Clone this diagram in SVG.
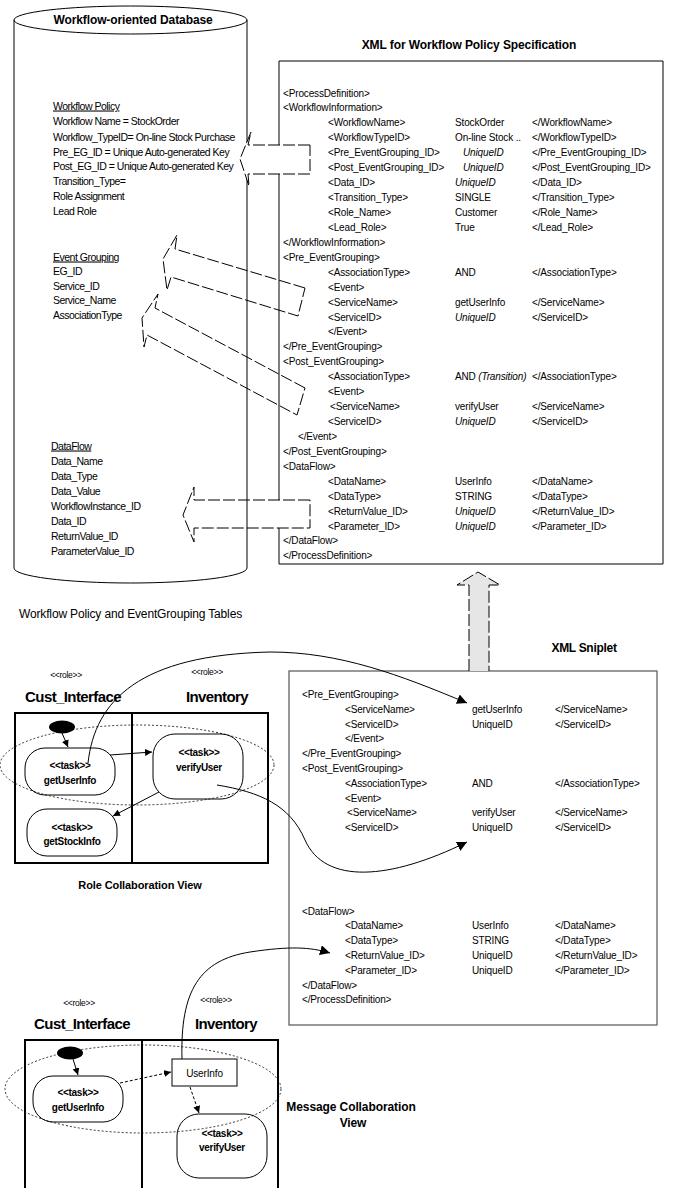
<svg xmlns="http://www.w3.org/2000/svg" width="673" height="1188" viewBox="0 0 673 1188">
<defs>
<style>
text{font-family:"Liberation Sans",Arial,sans-serif;fill:#000}
.x{font-size:10px;letter-spacing:-0.15px}
.c{font-size:10.5px;letter-spacing:-0.5px}
.i{font-style:italic}
.u{text-decoration:underline}
.h{font-size:12px;font-weight:bold;letter-spacing:-0.1px}
.big{font-size:15px;font-weight:bold;letter-spacing:-0.6px}
.role{font-size:8.5px;letter-spacing:-0.3px}
.task{font-size:10px;font-weight:bold;letter-spacing:-0.3px}
.ln{fill:none;stroke:#000;stroke-width:1}
.blk{fill:none;stroke:#000;stroke-width:1;stroke-dasharray:12 3}
.dot{fill:none;stroke:#000;stroke-width:0.8;stroke-dasharray:2 2}
.tk{fill:#fff;stroke:#000;stroke-width:1}
</style>
<marker id="ah" viewBox="0 0 10 10" refX="10" refY="5" markerWidth="7" markerHeight="7" orient="auto" markerUnits="userSpaceOnUse"><path d="M0,0 L10,5 L0,10 z" fill="#000"/></marker>
<marker id="ahb" viewBox="0 0 10 10" refX="10" refY="5" markerWidth="10" markerHeight="10" orient="auto" markerUnits="userSpaceOnUse"><path d="M0,0 L10,5 L0,10 z" fill="#000"/></marker>
</defs>
<rect width="673" height="1188" fill="#fff"/>

<g id="database">
<path class="ln" d="M14,20 L14,568 A116.5,15 0 0 0 247,568 L247,20"/>
<ellipse class="ln" cx="130.5" cy="20" rx="116.5" ry="14" fill="#fff"/>
<text class="h" x="133" y="24" text-anchor="middle">Workflow-oriented Database</text>
<text class="c u" x="53" y="109.5">Workflow Policy</text>
<text class="c" x="53" y="125">Workflow Name = StockOrder</text>
<text class="c" x="53" y="140.5">Workflow_TypeID= On-line Stock Purchase</text>
<text class="c" x="53" y="155.5">Pre_EG_ID = Unique Auto-generated Key</text>
<text class="c" x="53" y="170">Post_EG_ID = Unique Auto-generated Key</text>
<text class="c" x="53" y="185">Transition_Type=</text>
<text class="c" x="53" y="200">Role Assignment</text>
<text class="c" x="53" y="214.5">Lead Role</text>
<text class="c u" x="53" y="260.5">Event Grouping</text>
<text class="c" x="53" y="275">EG_ID</text>
<text class="c" x="53" y="289.5">Service_ID</text>
<text class="c" x="53" y="304">Service_Name</text>
<text class="c" x="53" y="319">AssociationType</text>
<text class="c u" x="51" y="449.5">DataFlow</text>
<text class="c" x="51" y="464.5">Data_Name</text>
<text class="c" x="51" y="479.5">Data_Type</text>
<text class="c" x="51" y="494.5">Data_Value</text>
<text class="c" x="51" y="509.5">WorkflowInstance_ID</text>
<text class="c" x="51" y="524.5">Data_ID</text>
<text class="c" x="51" y="539.5">ReturnValue_ID</text>
<text class="c" x="51" y="554.5">ParameterValue_ID</text>
<text x="19" y="618" style="font-size:12px;letter-spacing:-0.15px">Workflow Policy and EventGrouping Tables</text>
</g>

<g id="xml-spec">
<text class="h" x="469" y="49" text-anchor="middle">XML for Workflow Policy Specification</text>
<path class="ln" d="M279,145 V61 H663 V564 H279 V528 M279,500 V174"/>
<text class="x" x="283" y="96.5">&lt;ProcessDefinition&gt;</text>
<text class="x" x="283" y="111.4">&lt;WorkflowInformation&gt;</text>
<text class="x" x="328" y="126.4">&lt;WorkflowName&gt;</text><text class="x" x="455" y="126.4">StockOrder</text><text class="x" x="532" y="126.4">&lt;/WorkflowName&gt;</text>
<text class="x" x="328" y="141.3">&lt;WorkflowTypeID&gt;</text><text class="x" x="455" y="141.3">On-line Stock ..</text><text class="x" x="532" y="141.3">&lt;/WorkflowTypeID&gt;</text>
<text class="x" x="328" y="156.2">&lt;Pre_EventGrouping_ID&gt;</text><text class="x i" x="463" y="156.2">UniqueID</text><text class="x" x="532" y="156.2">&lt;/Pre_EventGrouping_ID&gt;</text>
<text class="x" x="328" y="171.2">&lt;Post_EventGrouping_ID&gt;</text><text class="x i" x="463" y="171.2">UniqueID</text><text class="x" x="532" y="171.2">&lt;/Post_EventGrouping_ID&gt;</text>
<text class="x" x="328" y="186.1">&lt;Data_ID&gt;</text><text class="x i" x="455" y="186.1">UniqueID</text><text class="x" x="532" y="186.1">&lt;/Data_ID&gt;</text>
<text class="x" x="328" y="201">&lt;Transition_Type&gt;</text><text class="x" x="455" y="201">SINGLE</text><text class="x" x="532" y="201">&lt;/Transition_Type&gt;</text>
<text class="x" x="328" y="215.9">&lt;Role_Name&gt;</text><text class="x" x="455" y="215.9">Customer</text><text class="x" x="532" y="215.9">&lt;/Role_Name&gt;</text>
<text class="x" x="328" y="230.9">&lt;Lead_Role&gt;</text><text class="x" x="455" y="230.9">True</text><text class="x" x="532" y="230.9">&lt;/Lead_Role&gt;</text>
<text class="x" x="283" y="245.8">&lt;/WorkflowInformation&gt;</text>
<text class="x" x="283" y="260.7">&lt;Pre_EventGrouping&gt;</text>
<text class="x" x="328" y="275.7">&lt;AssociationType&gt;</text><text class="x" x="455" y="275.7">AND</text><text class="x" x="532" y="275.7">&lt;/AssociationType&gt;</text>
<text class="x" x="328" y="290.6">&lt;Event&gt;</text>
<text class="x" x="328" y="305.5">&lt;ServiceName&gt;</text><text class="x" x="455" y="305.5">getUserInfo</text><text class="x" x="532" y="305.5">&lt;/ServiceName&gt;</text>
<text class="x" x="328" y="320.5">&lt;ServiceID&gt;</text><text class="x i" x="455" y="320.5">UniqueID</text><text class="x" x="532" y="320.5">&lt;/ServiceID&gt;</text>
<text class="x" x="328" y="335.4">&lt;/Event&gt;</text>
<text class="x" x="283" y="350.3">&lt;/Pre_EventGrouping&gt;</text>
<text class="x" x="283" y="365.2">&lt;Post_EventGrouping&gt;</text>
<text class="x" x="328" y="380.2">&lt;AssociationType&gt;</text><text class="x" x="455" y="380.2">AND <tspan class="i">(Transition)</tspan></text><text class="x" x="532" y="380.2">&lt;/AssociationType&gt;</text>
<text class="x" x="328" y="395.1">&lt;Event&gt;</text>
<text class="x" x="330" y="410">&lt;ServiceName&gt;</text><text class="x" x="455" y="410">verifyUser</text><text class="x" x="532" y="410">&lt;/ServiceName&gt;</text>
<text class="x" x="328" y="425">&lt;ServiceID&gt;</text><text class="x i" x="455" y="425">UniqueID</text><text class="x" x="532" y="425">&lt;/ServiceID&gt;</text>
<text class="x" x="298" y="439.9">&lt;/Event&gt;</text>
<text class="x" x="283" y="454.8">&lt;/Post_EventGrouping&gt;</text>
<text class="x" x="283" y="469.8">&lt;DataFlow&gt;</text>
<text class="x" x="328" y="484.7">&lt;DataName&gt;</text><text class="x" x="455" y="484.7">UserInfo</text><text class="x" x="532" y="484.7">&lt;/DataName&gt;</text>
<text class="x" x="328" y="499.6">&lt;DataType&gt;</text><text class="x" x="455" y="499.6">STRING</text><text class="x" x="532" y="499.6">&lt;/DataType&gt;</text>
<text class="x" x="328" y="514.5">&lt;ReturnValue_ID&gt;</text><text class="x i" x="455" y="514.5">UniqueID</text><text class="x" x="532" y="514.5">&lt;/ReturnValue_ID&gt;</text>
<text class="x" x="328" y="529.5">&lt;Parameter_ID&gt;</text><text class="x i" x="455" y="529.5">UniqueID</text><text class="x" x="532" y="529.5">&lt;/Parameter_ID&gt;</text>
<text class="x" x="283" y="544.4">&lt;/DataFlow&gt;</text>
<text class="x" x="283" y="559.3">&lt;/ProcessDefinition&gt;</text>
</g>

<g id="xml-sniplet">
<text class="h" x="584" y="652" text-anchor="middle" style="letter-spacing:-0.3px">XML Sniplet</text>
<rect x="289" y="671" width="368" height="354" fill="none" stroke="#555" stroke-width="1.2"/>
<text class="x" x="302" y="698">&lt;Pre_EventGrouping&gt;</text>
<text class="x" x="345" y="712.8">&lt;ServiceName&gt;</text><text class="x" x="472" y="712.8">getUserInfo</text><text class="x" x="555" y="712.8">&lt;/ServiceName&gt;</text>
<text class="x" x="345" y="727.6">&lt;ServiceID&gt;</text><text class="x" x="472" y="727.6">UniqueID</text><text class="x" x="555" y="727.6">&lt;/ServiceID&gt;</text>
<text class="x" x="345" y="742.4">&lt;/Event&gt;</text>
<text class="x" x="302" y="757.2">&lt;/Pre_EventGrouping&gt;</text>
<text class="x" x="302" y="772">&lt;Post_EventGrouping&gt;</text>
<text class="x" x="345" y="786.8">&lt;AssociationType&gt;</text><text class="x" x="472" y="786.8">AND</text><text class="x" x="555" y="786.8">&lt;/AssociationType&gt;</text>
<text class="x" x="345" y="801.6">&lt;Event&gt;</text>
<text class="x" x="347" y="816.4">&lt;ServiceName&gt;</text><text class="x" x="472" y="816.4">verifyUser</text><text class="x" x="555" y="816.4">&lt;/ServiceName&gt;</text>
<text class="x" x="345" y="831.2">&lt;ServiceID&gt;</text><text class="x" x="472" y="831.2">UniqueID</text><text class="x" x="555" y="831.2">&lt;/ServiceID&gt;</text>
<text class="x" x="302" y="914.5">&lt;DataFlow&gt;</text>
<text class="x" x="345" y="929.3">&lt;DataName&gt;</text><text class="x" x="472" y="929.3">UserInfo</text><text class="x" x="555" y="929.3">&lt;/DataName&gt;</text>
<text class="x" x="345" y="944.1">&lt;DataType&gt;</text><text class="x" x="472" y="944.1">STRING</text><text class="x" x="555" y="944.1">&lt;/DataType&gt;</text>
<text class="x" x="345" y="958.9">&lt;ReturnValue_ID&gt;</text><text class="x" x="472" y="958.9">UniqueID</text><text class="x" x="555" y="958.9">&lt;/ReturnValue_ID&gt;</text>
<text class="x" x="345" y="973.7">&lt;Parameter_ID&gt;</text><text class="x" x="472" y="973.7">UniqueID</text><text class="x" x="555" y="973.7">&lt;/Parameter_ID&gt;</text>
<text class="x" x="302" y="988.5">&lt;/DataFlow&gt;</text>
<text class="x" x="302" y="1003.3">&lt;/ProcessDefinition&gt;</text>
</g>

<g id="role-collaboration">
<text class="role" x="66" y="678" text-anchor="middle">&lt;&lt;role&gt;&gt;</text>
<text class="role" x="207" y="675" text-anchor="middle">&lt;&lt;role&gt;&gt;</text>
<text class="big" x="73" y="702" text-anchor="middle">Cust_Interface</text>
<text class="big" x="217" y="702" text-anchor="middle">Inventory</text>
<rect x="15" y="713" width="253" height="150" fill="none" stroke="#000" stroke-width="2"/>
<line x1="132" y1="713" x2="132" y2="863" stroke="#000" stroke-width="2"/>
<ellipse cx="62" cy="727" rx="13" ry="6.5" fill="#000"/>
<g id="rc-getUserInfo"><rect class="tk" x="25" y="748" width="90" height="47" rx="20"/>
<text class="task" x="70" y="768.5" text-anchor="middle">&lt;&lt;task&gt;&gt;</text>
<text class="task" x="70" y="783.5" text-anchor="middle">getUserInfo</text></g>
<g id="rc-verifyUser"><rect class="tk" x="153" y="734" width="90" height="65" rx="22"/>
<text class="task" x="199" y="755.5" text-anchor="middle">&lt;&lt;task&gt;&gt;</text>
<text class="task" x="199" y="770.5" text-anchor="middle">verifyUser</text></g>
<g id="rc-getStockInfo"><rect class="tk" x="27" y="809" width="90" height="47" rx="20"/>
<text class="task" x="72" y="830.5" text-anchor="middle">&lt;&lt;task&gt;&gt;</text>
<text class="task" x="72" y="844.5" text-anchor="middle">getStockInfo</text></g>
<ellipse class="dot" cx="137" cy="765" rx="137" ry="40"/>
<text class="h" x="140" y="889" text-anchor="middle" style="font-size:11px">Role Collaboration View</text>
</g>

<g id="message-collaboration">
<text class="role" x="79" y="1006" text-anchor="middle">&lt;&lt;role&gt;&gt;</text>
<text class="role" x="216" y="1003" text-anchor="middle">&lt;&lt;role&gt;&gt;</text>
<text class="big" x="82" y="1029" text-anchor="middle">Cust_Interface</text>
<text class="big" x="226" y="1029" text-anchor="middle">Inventory</text>
<path d="M25,1190 V1040 H278 V1190" fill="none" stroke="#000" stroke-width="2"/>
<line x1="142" y1="1040" x2="142" y2="1190" stroke="#000" stroke-width="2"/>
<ellipse cx="70" cy="1053" rx="13" ry="6.5" fill="#000"/>
<g id="mc-getUserInfo"><rect class="tk" x="33" y="1076" width="90" height="46" rx="20"/>
<text class="task" x="78" y="1095.5" text-anchor="middle">&lt;&lt;task&gt;&gt;</text>
<text class="task" x="78" y="1110.5" text-anchor="middle">getUserInfo</text></g>
<g id="mc-UserInfo"><rect x="172" y="1059" width="65" height="27" fill="#fff" stroke="#000" stroke-width="1"/>
<text class="x" x="204.5" y="1076.5" text-anchor="middle">UserInfo</text></g>
<g id="mc-verifyUser"><rect class="tk" x="177" y="1114" width="90" height="64" rx="22"/>
<text class="task" x="222" y="1136.5" text-anchor="middle">&lt;&lt;task&gt;&gt;</text>
<text class="task" x="222" y="1150.5" text-anchor="middle">verifyUser</text></g>
<ellipse class="dot" cx="143" cy="1089" rx="138" ry="44"/>
<text class="h" x="351" y="1111" text-anchor="middle">Message Collaboration</text>
<text class="h" x="353" y="1127" text-anchor="middle">View</text>
</g>

<g id="connectors">
<polygon points="310,145 248,145 251,132 240,159 249,186 248,174 310,174" fill="#fff" stroke="#000" stroke-width="1" stroke-dasharray="12 3"/>
<polygon class="blk" points="305,288 175,249 177,235 163,259 167,290 171,277 298,316"/>
<polygon class="blk" points="305,388 155,308 158,294 142,318 144,347 147,335 297,415"/>
<polygon class="blk" points="310,500 194,500 194,487 183,515 194,542 194,528 310,528"/>
<polygon points="478,572 500,585 489,585 489,671 469,671 469,585 457,585" fill="#e6e6e6" stroke="none"/>
<path class="ln" d="M469,671 V585 H457 L478,572 L500,585 H489 V671" stroke-dasharray="12 3"/>
<path class="ln" d="M88,763 C95,700 140,655 270,652 C340,652 400,675 467,703" marker-end="url(#ahb)"/>
<path class="ln" d="M217,785 C260,792 290,805 305,840 C325,885 390,880 467,842" marker-end="url(#ahb)"/>
<path class="ln" d="M182,1059 C180,990 200,960 250,952 C290,946 310,947 330,953" marker-end="url(#ahb)"/>
<line class="ln" x1="62" y1="733" x2="68" y2="747" marker-end="url(#ah)"/>
<line class="ln" x1="110" y1="755" x2="152" y2="752" marker-end="url(#ah)"/>
<line class="ln" x1="159" y1="792" x2="113" y2="816" marker-end="url(#ah)"/>
<line class="ln" x1="73" y1="1059" x2="78" y2="1075" marker-end="url(#ah)"/>
<line class="ln" x1="120" y1="1083" x2="171" y2="1072" stroke-dasharray="3 2" marker-end="url(#ah)"/>
<line class="ln" x1="190" y1="1087" x2="199" y2="1113" stroke-dasharray="3 2" marker-end="url(#ah)"/>
</g>
</svg>
